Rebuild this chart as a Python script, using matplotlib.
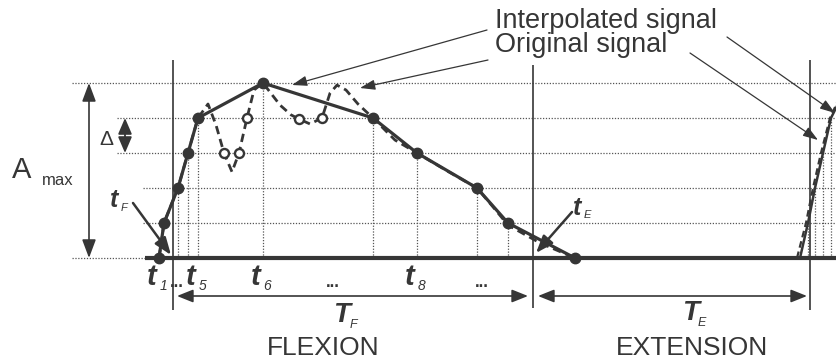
import matplotlib
matplotlib.use("Agg")
import matplotlib.pyplot as plt

plt.rcParams['font.family'] = ['Liberation Sans', 'DejaVu Sans']

# ---------------- data (x: time in drawing units, y: amplitude in units of delta) -------------
interp_t = [159, 164, 178, 188, 198, 263, 373, 417, 477, 508, 575]
interp_a = [0, 1, 2, 3, 4, 5, 4, 3, 2, 1, 0]

orig_t = [159, 164, 178, 188, 198, 208, 216, 224, 232, 239, 247, 254, 263,
          270, 280, 291, 299, 310, 322, 330, 337, 346, 358, 373, 395, 417,
          447, 477, 493, 508, 540, 575]
orig_a = [0, 1, 2, 3, 4, 4.4, 3.8, 3, 2.46, 3, 4, 4.8, 5,
          4.74, 4.37, 4.09, 3.97, 3.83, 4, 4.71, 4.94, 4.8, 4.4, 4, 3.37, 3,
          2.49, 2, 1.46, 0.94, 0.43, 0]

circ_t = [224, 239, 247, 299, 322]
circ_a = [3, 3, 4, 3.97, 4]

ext_t = [800, 808, 815, 823, 831, 845]
ext_a = [0, 1, 2, 3, 4, 4.8]
ext_orig_t = [797, 806, 813, 821, 830, 843]
ext_orig_a = [0, 1, 2, 3, 4, 4.8]

levels = [0, 1, 2, 3, 4, 5]
level_start = [72, 143, 143, 117, 117, 72]

phase_bounds = [173, 533, 810]
tick_t = [159, 198, 263, 417]
tick_sub = ['1', '5', '6', '8']
dots_t = [177, 333, 482]

C = '#363636'
BASE_PX = 258.0
STEP_PX = 35.0


def Y(py):
    return (BASE_PX - py) / STEP_PX


fig = plt.figure(figsize=(8.37, 3.6), dpi=100)
ax = fig.add_axes([0, 0, 1, 1])
ax.set_xlim(0, 837)
ax.set_ylim(Y(360), Y(0))
ax.axis('off')

# horizontal dotted grid
for lv, xs in zip(levels, level_start):
    xe = 145 if lv == 0 else 837
    ax.hlines(lv, xs, xe, colors='#555555', lw=0.9, linestyles=(0, (1, 1.3)))

# dotted verticals from samples
ax.vlines(interp_t[2:-1], 0, interp_a[2:-1], colors='#555555', lw=0.9, linestyles=(0, (1, 1.3)))
ax.vlines(ext_t[1:5], 0, ext_a[1:5], colors='#555555', lw=0.9, linestyles=(0, (1, 1.3)))

# baseline
ax.hlines(0, 145, 837, colors=C, lw=3.0, zorder=3)

# phase boundary verticals
tops = [60, 65, 60]
bots = [310, 308, 310]
for x, tp, bt in zip(phase_bounds, tops, bots):
    ax.vlines(x, Y(bt), Y(tp), colors=C, lw=1.2, zorder=3)

# signals
ax.plot(orig_t, orig_a, color=C, lw=2.0, dashes=(3, 1.8), zorder=4)
ax.plot(interp_t, interp_a, color=C, lw=2.3, zorder=5, marker='o', ms=7.5,
        mfc=C, mec=C)
ax.plot(circ_t, circ_a, ls='none', marker='o', ms=6.5, mfc='white', mec=C, mew=1.7, zorder=6)
ax.plot(ext_orig_t, ext_orig_a, color=C, lw=1.6, dashes=(3, 1.8), zorder=4)
ax.plot(ext_t, ext_a, color=C, lw=1.8, zorder=5)


def arrow(x0, y0, x1, y1, style='-|>', lw=0.9, hl=0.65, hw=0.22, ms=14):
    ax.annotate('', xy=(x1, Y(y1)), xytext=(x0, Y(y0)),
                arrowprops=dict(arrowstyle=f'{style},head_length={hl},head_width={hw}',
                                lw=lw, color=C, mutation_scale=ms,
                                shrinkA=0, shrinkB=0), zorder=7)


# leader arrows
arrow(487, 30, 292, 85)
arrow(488, 60, 360, 88)
arrow(727, 37, 835, 113)
arrow(690, 53, 818, 140)
arrow(133, 203, 171, 255, lw=1.8, hl=0.75, hw=0.28)
arrow(572, 212, 536, 253, lw=1.8, hl=0.75, hw=0.28)

# amplitude arrows
arrow(89, 258, 89, 83, style='<|-|>', lw=1.2, hl=0.8, hw=0.3)
arrow(125, 153, 125, 118, style='<|-|>', lw=1.3, hl=0.7, hw=0.3)

# duration arrows
arrow(177, 296, 528, 296, style='<|-|>', lw=1.2, hl=0.7, hw=0.28)
arrow(538, 296, 807, 296, style='<|-|>', lw=1.2, hl=0.7, hw=0.28)


def txt(x, py, s, size, **kw):
    kw.setdefault('ha', 'left')
    kw.setdefault('va', 'baseline')
    ax.text(x, Y(py), s, fontsize=size, color=C, **kw)


txt(495, 28, 'Interpolated signal', 19.5)
txt(495, 52, 'Original signal', 19.5)
txt(12, 178, 'A', 21)
txt(42, 185, 'max', 12)
txt(106, 145, 'Δ', 15, ha='center')

# time tick labels
for tx, sub in zip(tick_t, tick_sub):
    txt(tx - 12, 285, 't', 21, fontweight='bold', style='italic')
    txt(tx + 0.5, 290, sub, 10, style='italic')
for dx in dots_t:
    txt(dx, 287, '...', 12, ha='center', fontweight='bold')

txt(110, 207, 't', 18, fontweight='bold', style='italic')
txt(121, 211, 'F', 8, style='italic')
txt(573, 215, 't', 18, fontweight='bold', style='italic')
txt(584, 218, 'E', 8, style='italic')

txt(333, 322, 'T', 20, fontweight='bold', style='italic')
txt(350, 328, 'F', 9, style='italic')
txt(682, 320, 'T', 20, fontweight='bold', style='italic')
txt(698, 326, 'E', 9, style='italic')

txt(323, 355, 'FLEXION', 19, ha='center')
txt(692, 355, 'EXTENSION', 19, ha='center')

fig.savefig('out.png', dpi=100)
